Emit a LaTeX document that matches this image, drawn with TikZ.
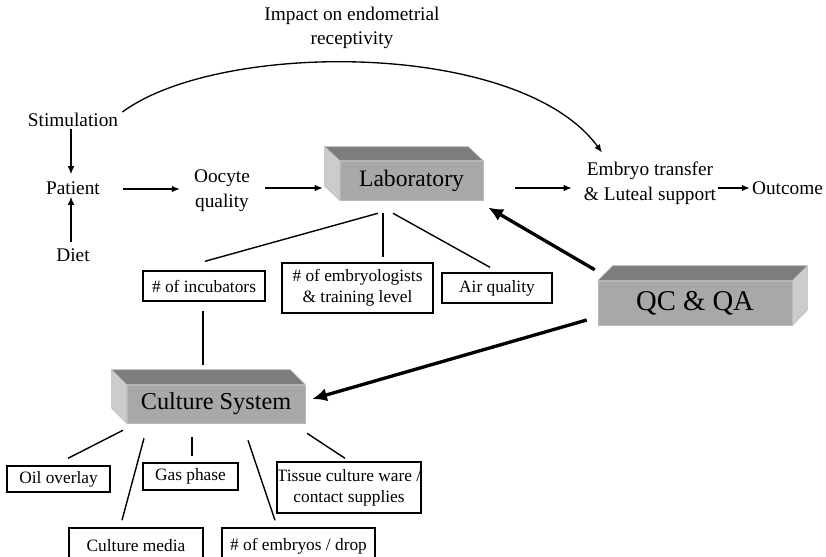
\documentclass[tikz,border=0pt]{standalone}
\usepackage{fontspec}
\setmainfont{Liberation Serif}
\usetikzlibrary{calc,arrows.meta}
\definecolor{frontc}{gray}{0.66}
\definecolor{topc}{gray}{0.49}
\definecolor{sidec}{gray}{0.80}
\tikzset{
  lbl/.style={inner sep=0pt, align=center, font=\fontsize{14.5}{18.5}\selectfont},
  fbox/.style={draw, line width=1.05pt, inner sep=0pt, align=center, font=\fontsize{13}{16}\selectfont},
  front/.style={fill=frontc, draw=gray!55, line width=0.4pt, inner sep=0pt},
  topface/.style={fill=topc, draw=gray!55, line width=0.4pt},
  sideface/.style={fill=sidec, draw=gray!55, line width=0.4pt},
  arr/.style={line width=1pt, -{Latex[length=6pt,width=5pt]}},
  thickarr/.style={line width=2.5pt, -{Latex[length=11pt,width=10pt]}},
  ln/.style={line width=1.05pt},
}
\begin{document}
\begin{tikzpicture}[x=0.75pt,y=-0.75pt]
\useasboundingbox (0,0) rectangle (826,557);
\clip (0,0) rectangle (826,557);

% 3D boxes
\node[front, minimum width=107.25pt, minimum height=29.25pt, font=\fontsize{17.7}{20}\selectfont] (lab) at (411.5,180.5) {Laboratory};
\fill[topface] (lab.north west) -- ++(-15,-14) -- ($(lab.north east)+(-15,-14)$) -- (lab.north east) -- cycle;
\fill[sideface] (lab.north west) -- ++(-15,-14) -- ($(lab.south west)+(-15,-14)$) -- (lab.south west) -- cycle;

\node[front, minimum width=145.5pt, minimum height=33pt, font=\fontsize{21.5}{24}\selectfont] (qc) at (695,303) {QC \& QA};
\fill[topface] (qc.north west) -- ++(15,-15) -- ($(qc.north east)+(15,-15)$) -- (qc.north east) -- cycle;
\fill[sideface] (qc.north east) -- ++(15,-15) -- ($(qc.south east)+(15,-15)$) -- (qc.south east) -- cycle;

\node[front, minimum width=133.5pt, minimum height=28.5pt, font=\fontsize{18.2}{21}\selectfont] (cul) at (216,404) {Culture System};
\fill[topface] (cul.north west) -- ++(-15,-15) -- ($(cul.north east)+(-15,-15)$) -- (cul.north east) -- cycle;
\fill[sideface] (cul.north west) -- ++(-15,-15) -- ($(cul.south west)+(-15,-15)$) -- (cul.south west) -- cycle;

% plain labels
\node[lbl] (imp) at (352,28) {Impact on endometrial\\receptivity};
\node[lbl] (stim) at (73,120) {Stimulation};
\node[lbl] (pat) at (73,188) {Patient};
\node[lbl] (diet) at (73,255) {Diet};
\node[lbl] (ooc) at (222,191) {Oocyte\\quality};
\node[lbl] (et) at (650,183) {Embryo transfer\\\& Luteal support};
\node[lbl] (out) at (787.5,188) {Outcome};

% framed boxes
\node[fbox, minimum width=91.5pt, minimum height=22.5pt] (inc) at (204,286) {\# of incubators};
\node[fbox, minimum width=113.25pt, minimum height=37.5pt] (emb) at (357.5,288) {\# of embryologists\\\& training level};
\node[fbox, minimum width=82.5pt, minimum height=22.5pt] (air) at (497,288) {Air quality};
\node[fbox, minimum width=77.25pt, minimum height=19.5pt] (oil) at (58.5,479) {Oil overlay};
\node[fbox, minimum width=71.25pt, minimum height=20.25pt] (gas) at (190.5,476.5) {Gas phase};
\node[fbox, minimum width=106.5pt, minimum height=38.25pt] (tis) at (349,487.5) {Tissue culture ware /\\contact supplies};
\node[fbox, minimum width=100.5pt, minimum height=27pt] (med) at (136,546) {Culture media};
\node[fbox, minimum width=114.75pt, minimum height=27pt] (drop) at (298.5,546) {\# of embryos / drop};

% arrows
\draw[arr] ($(stim.south)+(-2,2)$) -- ($(pat.north)+(-2,-7)$);
\draw[arr] ($(diet.north)+(-2,-6)$) -- ($(pat.south)+(-2,2)$);
\draw[arr] ($(pat.east)+(23,1)$) -- ($(ooc.west)+(-14,-2)$);
\draw[arr] ($(ooc.east)+(15,-3)$) -- ($(lab.west)+(-17,7.5)$);
\draw[arr] ($(lab.east)+(32,7.5)$) -- ($(et.west)+(-12,5)$);
\draw[arr] ($(et.east)+(2,5)$) -- ($(out.west)+(-2,0)$);
\draw[arr] ($(stim.east)+(4,-8)$) .. controls (220,40) and (520,40) .. ($(et.north)+(-48,-9)$);

\draw[thickarr] ($(qc.north west)+(-3,-11)$) -- ($(lab.east)+(5,27)$);
\draw[thickarr] ($(qc.west)+(-11,17)$) -- ($(cul.east)+(7,-5)$);

% lines from Laboratory
\draw[ln] ($(lab.south)+(-33.5,13)$) -- ($(inc.north)+(1,-9)$);
\draw[ln] ($(lab.south)+(-28.5,13)$) -- ($(emb.north)+(25.5,-5)$);
\draw[ln] ($(lab.south)+(-18.5,13)$) -- ($(air.north)+(-7,-5)$);
\draw[ln] ($(inc.south)+(-1,9)$) -- ($(cul.north)+(-13,-20)$);

% lines from Culture System
\draw[ln] ($(cul.south)+(-93,7)$) -- ($(oil.north)+(9.5,-7)$);
\draw[ln] ($(cul.south)+(-72,15)$) -- ($(med.north)+(-14,-7)$);
\draw[ln] ($(cul.south)+(-24,14)$) -- ($(gas.north)+(1.5,-6)$);
\draw[ln] ($(cul.south)+(32,17)$) -- ($(drop.north)+(-23.5,-7)$);
\draw[ln] ($(cul.south)+(91,10)$) -- ($(tis.north)+(-4,-3)$);
\end{tikzpicture}
\end{document}
